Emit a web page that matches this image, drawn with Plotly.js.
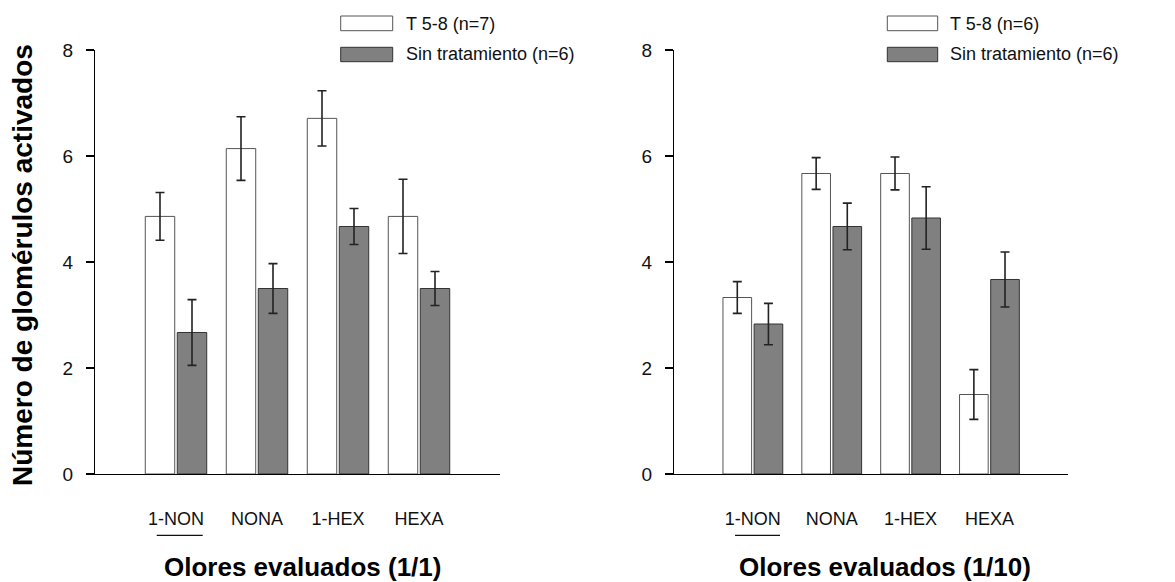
<!DOCTYPE html>
<html>
<head>
<meta charset="utf-8">
<script src="https://cdn.plot.ly/plotly-3.0.1.min.js"></script>
<style>html,body{margin:0;padding:0;background:#fff;}#chart{width:1175px;height:582px;}</style>
</head>
<body>
<div id="chart"></div>
<script>
// ---- data ----
const categories = ["1-NON", "NONA", "1-HEX", "HEXA"];

// Panel 1: Olores evaluados (1/1)
const p1TreatName = "T 5-8 (n=7)";
const p1CtrlName = "Sin tratamiento (n=6)";
const p1Treat = [4.86, 6.14, 6.71, 4.86];
const p1TreatErr = [0.45, 0.60, 0.52, 0.70];
const p1Ctrl = [2.67, 3.50, 4.67, 3.50];
const p1CtrlErr = [0.62, 0.47, 0.34, 0.32];

// Panel 2: Olores evaluados (1/10)
const p2TreatName = "T 5-8 (n=6)";
const p2CtrlName = "Sin tratamiento (n=6)";
const p2Treat = [3.33, 5.67, 5.67, 1.50];
const p2TreatErr = [0.30, 0.30, 0.31, 0.47];
const p2Ctrl = [2.83, 4.67, 4.83, 3.67];
const p2CtrlErr = [0.39, 0.44, 0.59, 0.52];

const yTicks = [0, 2, 4, 6, 8];

// ---- styling ----
const regular = "Liberation Sans, Arial, sans-serif";
const bold = "Liberation Sans, Arial, sans-serif";
const whiteFill = "#ffffff", whiteLine = "#555555";
const grayFill = "#808080", grayLine = "#333333";
const errStyle = {color: "#222222", thickness: 1.6, width: 4.5};

function barTrace(name, y, err, xa, ya, fill, line) {
  return {
    type: "bar", name: name, x: categories, y: y,
    xaxis: xa, yaxis: ya,
    marker: {color: fill, line: {color: line, width: 1}},
    error_y: Object.assign({type: "data", array: err, visible: true}, errStyle),
    showlegend: false, hoverinfo: "x+y"
  };
}
function dotTrace(xa, ya) {
  return {
    type: "scatter", mode: "markers", x: categories, y: categories.map(() => -0.34),
    xaxis: xa, yaxis: ya, cliponaxis: false,
    marker: {size: 2, color: "#666666"}, showlegend: false, hoverinfo: "skip"
  };
}

const data = [
  barTrace(p1TreatName, p1Treat, p1TreatErr, "x", "y", whiteFill, whiteLine),
  barTrace(p1CtrlName, p1Ctrl, p1CtrlErr, "x", "y", grayFill, grayLine),
  barTrace(p2TreatName, p2Treat, p2TreatErr, "x2", "y2", whiteFill, whiteLine),
  barTrace(p2CtrlName, p2Ctrl, p2CtrlErr, "x2", "y2", grayFill, grayLine),
  dotTrace("x", "y"), dotTrace("x2", "y2")
];

function xAxis(domain, anchor) {
  return {
    domain: domain, anchor: anchor, type: "category", range: [-1, 4],
    showline: true, linecolor: "#000", linewidth: 1.2, mirror: false,
    ticks: "", showgrid: false, zeroline: false,
    tickfont: {family: regular, size: 18, color: "#111"},
    ticklabelstandoff: 28, fixedrange: true
  };
}
function yAxis(domain, anchor) {
  return {
    domain: [0, 1], anchor: anchor, range: [0, 8], tickvals: yTicks,
    showline: true, linecolor: "#000", linewidth: 1.2,
    ticks: "outside", ticklen: 8, tickwidth: 1.2, tickcolor: "#000",
    showgrid: false, zeroline: false,
    tickfont: {family: regular, size: 19, color: "#111"},
    ticklabelstandoff: 9, fixedrange: true
  };
}

const W = 1175, plotTop = 50, plotBot = 474, plotH = plotBot - plotTop;
const px = v => v / W;
const py = v => (plotBot - v) / plotH;

function legendShapes(x0, x1) {
  return [
    {type: "rect", xref: "paper", yref: "paper", x0: px(x0), x1: px(x1), y0: py(30.7), y1: py(16),
     fillcolor: whiteFill, line: {color: whiteLine, width: 1}},
    {type: "rect", xref: "paper", yref: "paper", x0: px(x0), x1: px(x1), y0: py(61.7), y1: py(47.3),
     fillcolor: grayFill, line: {color: grayLine, width: 1}}
  ];
}
function legendText(x, t1, t2) {
  return [
    {xref: "paper", yref: "paper", x: px(x), y: py(23.5), xanchor: "left", yanchor: "middle",
     text: t1, showarrow: false, font: {family: regular, size: 18, color: "#111"}},
    {xref: "paper", yref: "paper", x: px(x), y: py(54.5), xanchor: "left", yanchor: "middle",
     text: t2, showarrow: false, font: {family: regular, size: 18, color: "#111"}}
  ];
}

const layout = {
  width: 1175, height: 582,
  margin: {l: 0, r: 0, t: plotTop, b: 582 - plotBot, pad: 0},
  paper_bgcolor: "#fff", plot_bgcolor: "#fff",
  barmode: "group", bargap: 0.21, bargroupgap: 0.08,
  showlegend: false,
  xaxis: xAxis([px(95), px(500)], "y"),
  yaxis: yAxis([0, 1], "x"),
  xaxis2: xAxis([px(674), px(1068.3)], "y2"),
  yaxis2: yAxis([0, 1], "x2"),
  shapes: [].concat(
    legendShapes(340.7, 392.7),
    legendShapes(887.3, 937.7),
    [
      {type: "line", xref: "paper", yref: "paper", x0: px(156.7), x1: px(202.7), y0: py(535.3), y1: py(535.3),
       line: {color: "#111", width: 1.2}},
      {type: "line", xref: "paper", yref: "paper", x0: px(735), x1: px(780), y0: py(535.3), y1: py(535.3),
       line: {color: "#111", width: 1.2}}
    ]
  ),
  annotations: [].concat(
    legendText(403.5, p1TreatName, p1CtrlName),
    legendText(947.5, p2TreatName, p2CtrlName),
    [
      {xref: "paper", yref: "paper", x: px(22), y: py(265), textangle: -90,
       xanchor: "center", yanchor: "middle", showarrow: false,
       text: "<b>Número de glomérulos activados</b>", font: {family: bold, size: 28, color: "#000"}},
      {xref: "paper", yref: "paper", x: px(302.5), y: py(567),
       xanchor: "center", yanchor: "middle", showarrow: false,
       text: "<b>Olores evaluados (1/1)</b>", font: {family: bold, size: 26, color: "#000"}},
      {xref: "paper", yref: "paper", x: px(885), y: py(567),
       xanchor: "center", yanchor: "middle", showarrow: false,
       text: "<b>Olores evaluados (1/10)</b>", font: {family: bold, size: 26, color: "#000"}}
    ]
  )
};

Plotly.newPlot("chart", data, layout, {displayModeBar: false, staticPlot: true});
</script>
</body>
</html>
